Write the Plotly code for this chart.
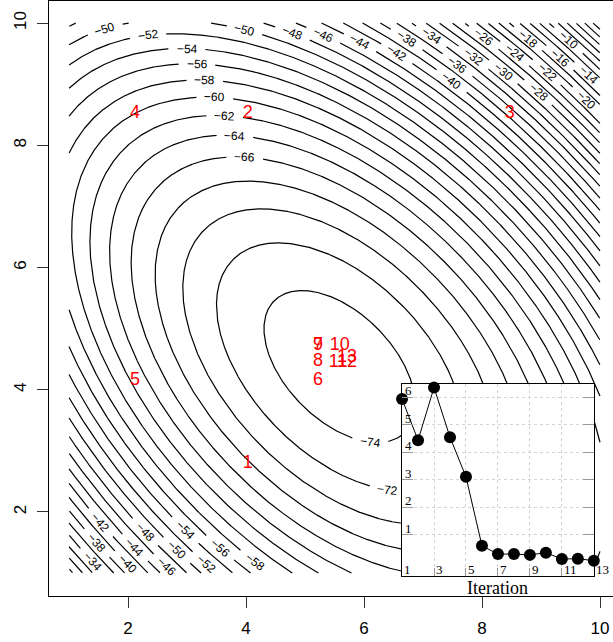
import numpy as np
import plotly.graph_objects as go

# quadratic surface f = a*x^2 + b*x*y + c*y^2 + d*x + e*y + g, estimated from the reference labels
surf = [0.98031, 1.00383, 1.03992, -15.34631, -14.71370, -0.14081]
levels = list(range(-74, 1, 2))

# contour label positions (x, y, level)
lab_x = [1.61, 3.98, 2.34, 3.00, 3.17, 3.30, 3.47, 3.64, 3.81, 3.98, 4.80, 5.30, 5.93, 6.56, 6.73, 7.15,
         7.59, 7.49, 7.85, 8.36, 8.95, 8.02, 8.56, 9.10, 9.78, 8.78, 9.32, 9.80, 9.46,
         2.97, 3.56, 4.15, 3.34, 2.83, 2.29, 2.66, 2.12, 1.53, 1.98, 1.47, 1.41, 6.10, 6.40]
lab_y = [9.90, 9.90, 9.80, 9.58, 9.33, 9.06, 8.78, 8.47, 8.14, 7.80, 9.86, 9.79, 9.68, 9.51, 9.74, 9.79,
         9.33, 9.06, 9.43, 9.19, 8.86, 9.76, 9.51, 9.19, 8.76, 9.74, 9.43, 9.14, 9.71,
         1.70, 1.41, 1.18, 1.16, 1.38, 1.67, 1.10, 1.42, 1.82, 1.13, 1.49, 1.18, 3.12, 2.36]
lab_z = [-50, -50, -52, -54, -56, -58, -60, -62, -64, -66, -48, -46, -44, -42, -38, -34,
         -36, -40, -32, -30, -28, -26, -24, -22, -20, -18, -16, -14, -10,
         -54, -56, -58, -52, -50, -48, -46, -44, -42, -40, -38, -34, -74, -72]

pt_labels = [str(i) for i in range(1, 14)]
pt_x = [4.03, 4.03, 8.47, 2.12, 2.12, 5.22, 5.22, 5.22, 5.22, 5.59, 5.56, 5.71, 5.71]
pt_y = [2.80, 8.52, 8.52, 8.52, 4.15, 4.15, 4.73, 4.46, 4.73, 4.73, 4.45, 4.45, 4.53]

iters = list(range(1, 14))
steps = [5.94, 4.44, 6.36, 4.55, 3.11, 0.60, 0.30, 0.30, 0.27, 0.35, 0.12, 0.13, 0.06]

# ---- layout geometry
W, H = 613, 642
ML, MR, MT, MB = 49, 0, 1, 46
XR = [0.661, 10.22]
YR = [0.625, 10.36]
sx = (W - ML - MR) / (XR[1] - XR[0])
sy = (H - MT - MB) / (YR[1] - YR[0])

a, b, c, d, e, g = surf
def f(x, y):
    return a*x*x + b*x*y + c*y*y + d*x + e*y + g
def grad(x, y):
    return 2*a*x + b*y + d, b*x + 2*c*y + e

A = np.array([[a, b/2], [b/2, c]])
p0 = -0.5 * np.linalg.solve(A, np.array([d, e]))
f0 = f(*p0)
lam, V = np.linalg.eigh(A)

# snap labels onto their contour, compute angle in screen space (y pointing down)
labels = []
for x, y, L in zip(lab_x, lab_y, lab_z):
    for _ in range(8):
        gx_, gy_ = grad(x, y)
        n2 = gx_*gx_ + gy_*gy_
        r = f(x, y) - L
        x -= r*gx_/n2
        y -= r*gy_/n2
    gx_, gy_ = grad(x, y)
    tx, ty = -gy_*sx, -gx_*sy
    ang = np.degrees(np.arctan2(ty, tx))
    if ang > 90: ang -= 180
    if ang <= -90: ang += 180
    txt = '\u2212' + str(abs(L))
    labels.append((x, y, L, ang, txt))

# contour lines as ellipses, clipped to [1,10]^2 with gaps at labels
theta = np.linspace(0, 2*np.pi, 4001)
cx, cy = [], []
for L in levels:
    if L <= f0:
        continue
    r0 = np.sqrt((L - f0)/lam[0]); r1 = np.sqrt((L - f0)/lam[1])
    px = p0[0] + V[0, 0]*r0*np.cos(theta) + V[0, 1]*r1*np.sin(theta)
    py = p0[1] + V[1, 0]*r0*np.cos(theta) + V[1, 1]*r1*np.sin(theta)
    keep = (px >= 1) & (px <= 10) & (py >= 1) & (py <= 10)
    for (lx, ly, lz, ang, txt) in labels:
        if lz == L:
            rad = 0.5*6.8*len(txt) + 8
            dist = np.hypot((px - lx)*sx, (py - ly)*sy)
            keep &= dist > rad
    if not keep.all():
        k = int(np.argmin(keep))
        px = np.roll(px[:-1], -k); py = np.roll(py[:-1], -k); keep = np.roll(keep[:-1], -k)
    for xi, yi, ki in zip(px, py, keep):
        if ki:
            cx.append(float(xi)); cy.append(float(yi))
        elif cx and cx[-1] is not None:
            cx.append(None); cy.append(None)
    cx.append(None); cy.append(None)

fig = go.Figure()
fig.add_trace(go.Scatter(x=cx, y=cy, mode='lines', line=dict(color='black', width=1.2),
                         hoverinfo='skip', connectgaps=False))
fig.add_trace(go.Scatter(x=pt_x, y=pt_y, text=pt_labels, mode='text',
                         textfont=dict(color='red', size=18, family='Liberation Sans'),
                         hoverinfo='skip'))
fig.add_trace(go.Scatter(x=iters, y=steps, mode='lines+markers', xaxis='x2', yaxis='y2',
                         line=dict(color='black', width=1), marker=dict(color='black', size=12),
                         cliponaxis=False, hoverinfo='skip'))

anns = []
for (lx, ly, lz, ang, txt) in labels:
    anns.append(dict(x=lx, y=ly, xref='x', yref='y', text=txt, showarrow=False, textangle=float(ang),
                     xanchor='center', yanchor='middle',
                     font=dict(family='Liberation Sans', size=12, color='black')))
for v in range(1, 7):
    anns.append(dict(x=1, y=v, xref='x2', yref='y2', text=str(v), showarrow=False, xanchor='left',
                     yanchor='bottom', xshift=1, yshift=-3,
                     font=dict(family='Liberation Serif', size=13, color='black')))
for v in range(1, 14, 2):
    anns.append(dict(x=v, y=0, xref='x2', yref='y2 domain', text=str(v), showarrow=False, xanchor='left',
                     yanchor='bottom', xshift=0, yshift=-3,
                     font=dict(family='Liberation Serif', size=13, color='black')))
anns.append(dict(x=0.5, y=0, xref='x2 domain', yref='y2 domain', text='Iteration', showarrow=False,
                 xanchor='center', yanchor='top', yshift=0,
                 font=dict(family='Liberation Serif', size=18, color='black')))

fig.update_layout(
    width=W, height=H, margin=dict(l=ML, r=MR, t=MT, b=MB),
    paper_bgcolor='white', plot_bgcolor='white', showlegend=False,
    font=dict(family='Liberation Sans', color='black'),
    xaxis=dict(range=XR, tickvals=[2, 4, 6, 8, 10], ticks='outside', ticklen=11,
               tickcolor='#333', showline=True, linecolor='black', mirror=True, showgrid=False,
               zeroline=False, tickfont=dict(size=17), ticklabelstandoff=6),
    yaxis=dict(range=YR, tickvals=[2, 4, 6, 8, 10], ticks='outside', ticklen=11,
               tickcolor='#333', showline=True, linecolor='black', mirror=False, showgrid=False,
               zeroline=False, tickfont=dict(size=17), tickangle=-90, ticklabelstandoff=4),
    xaxis2=dict(domain=[0.626, 0.966], anchor='y2', range=[1, 13], tickvals=[3, 5, 7, 9, 11, 13],
                ticks='inside', ticklen=8, tickcolor='#999', showticklabels=False, showline=True,
                linecolor='black', mirror=True, showgrid=True, gridcolor='#d4d4d4', griddash='dot',
                zeroline=False),
    yaxis2=dict(domain=[0.034, 0.356], anchor='x2', range=[-0.49, 6.48], tickvals=[1, 2, 3, 4, 5, 6],
                ticks='inside', ticklen=11, tickcolor='#999', showticklabels=False, showline=True,
                linecolor='black', mirror='ticks', showgrid=True, gridcolor='#d4d4d4', griddash='dot',
                zeroline=False),
    shapes=[dict(type='rect', xref='x2', yref='y2', x0=1, x1=13, y0=-0.49, y1=6.48,
                 fillcolor='white', line=dict(width=0), layer='below')],
    annotations=anns,
)
fig.write_html('out.html', config={'displayModeBar': False},
               post_script="document.body.style.margin='0px';")
